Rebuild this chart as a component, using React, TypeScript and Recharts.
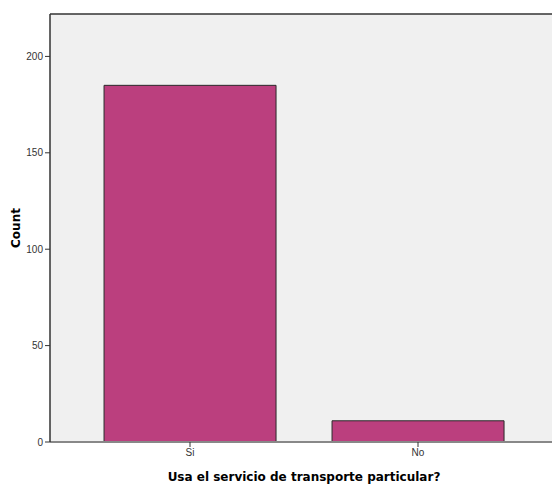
import React from "react";
import { BarChart, Bar, XAxis, YAxis, CartesianGrid, ReferenceLine } from "recharts";

const categories = ["Si", "No"];
const counts = [185, 11];
const yTicks = [0, 50, 100, 150, 200];

const data = categories.map((c, i) => ({ name: c, count: counts[i] }));

export default function App() {
  return (
    <div style={{ position: "absolute", left: 0, top: 0, width: 552, height: 488, overflow: "hidden", background: "#fff" }}>
      <BarChart
        width={560}
        height={489}
        data={data}
        margin={{ top: 14, right: 2, bottom: 0, left: 0 }}
        barCategoryGap="12.3%"
      >
        <CartesianGrid horizontal={false} vertical={false} fill="#f0f0f0" />
        <ReferenceLine y={222} stroke="#333" strokeWidth={1.5} />
        <XAxis
          dataKey="name"
          height={47}
          padding={{ left: 26, right: 26 }}
          axisLine={{ stroke: "#888", strokeWidth: 2 }}
          tickLine={{ stroke: "#333" }}
          tickSize={5}
          tick={{ fontSize: 10, fill: "#333", fontFamily: "Liberation Sans, Arial, sans-serif" }}
          label={{ value: "Usa el servicio de transporte particular?", position: "insideBottom", offset: 8, fontSize: 12, fontWeight: "bold", fill: "#000", fontFamily: "DejaVu Sans, sans-serif" }}
        />
        <YAxis
          width={50}
          domain={[0, 222]}
          ticks={yTicks}
          allowDataOverflow
          axisLine={{ stroke: "#333", strokeWidth: 1.5 }}
          tickLine={{ stroke: "#333" }}
          tickSize={5}
          tick={{ fontSize: 10, fill: "#333", fontFamily: "Liberation Sans, Arial, sans-serif" }}
          label={{ value: "Count", angle: -90, position: "insideLeft", offset: 16, fontSize: 12, fontWeight: "bold", fill: "#000", fontFamily: "DejaVu Sans, sans-serif", style: { textAnchor: "middle" } }}
        />
        <Bar dataKey="count" fill="#bb3f7e" stroke="#2a2a2a" strokeWidth={1} isAnimationActive={false} />
      </BarChart>
    </div>
  );
}
